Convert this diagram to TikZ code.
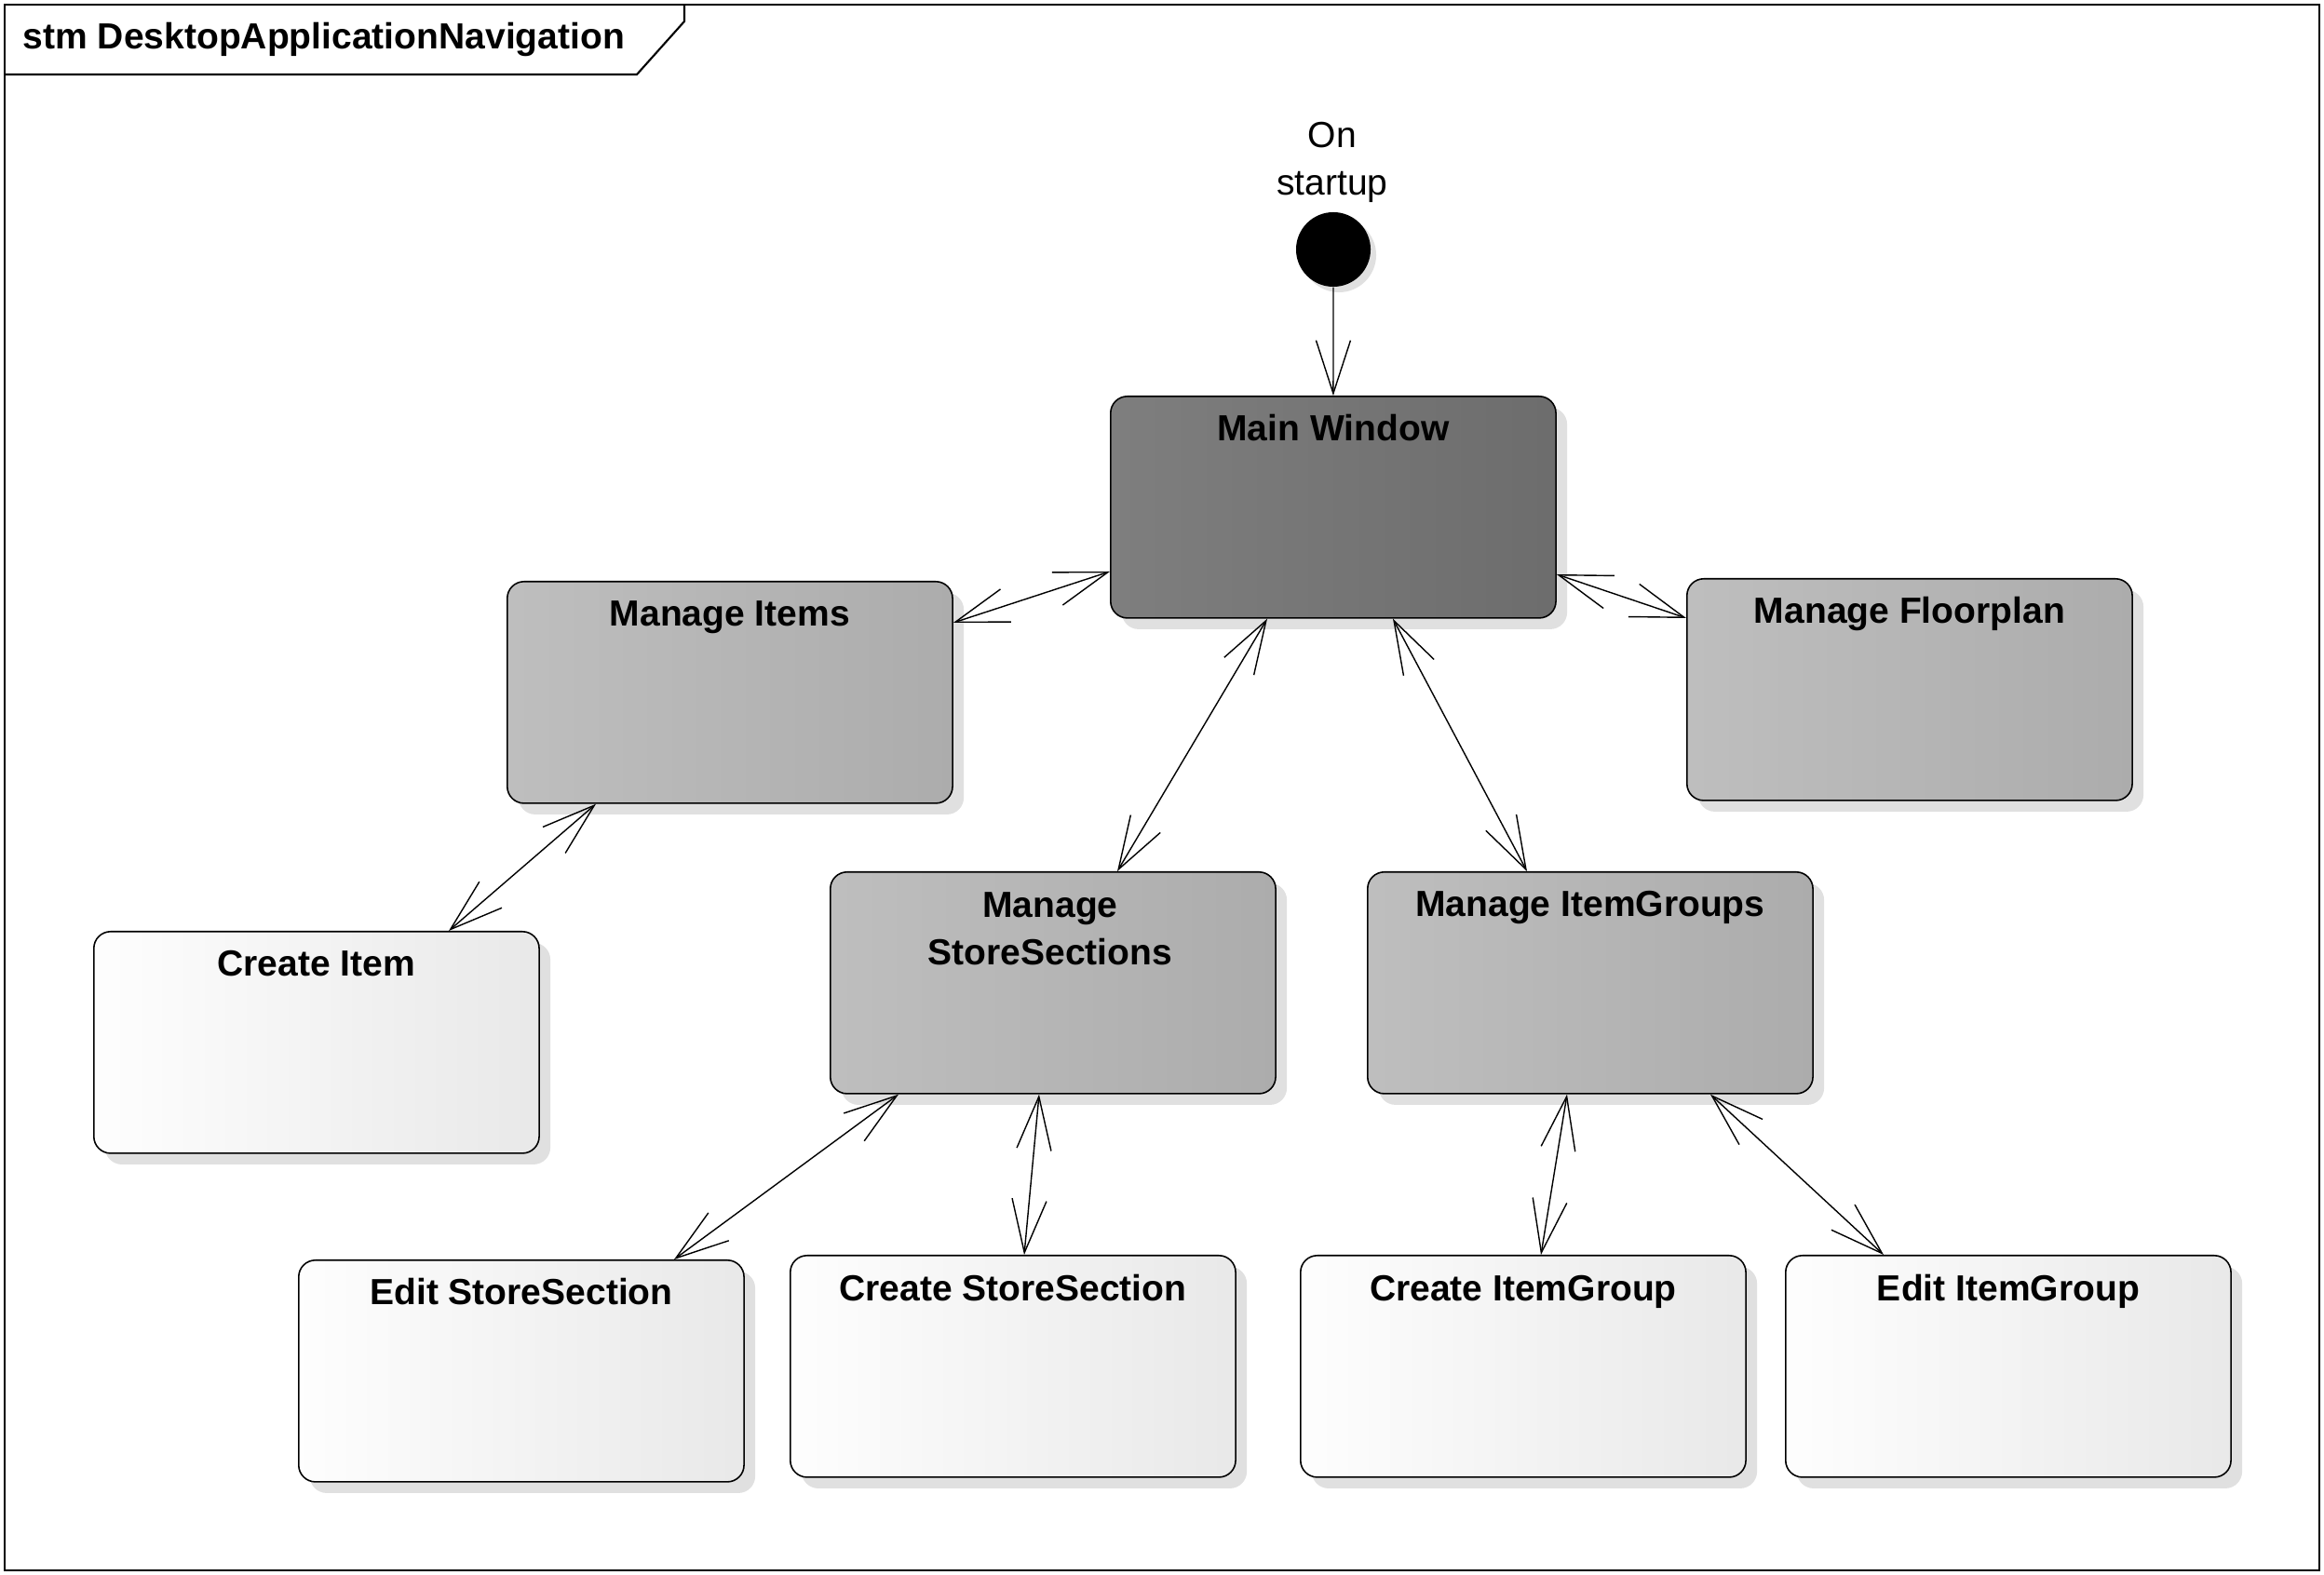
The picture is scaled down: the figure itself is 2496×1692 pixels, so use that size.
\documentclass[tikz,border=0pt]{standalone}
\usepackage{fontspec}
\setmainfont{Liberation Sans}
\usetikzlibrary{arrows.meta,calc,shadows}
\definecolor{dkL}{RGB}{128,128,128}
\definecolor{dkR}{RGB}{100,100,100}
\definecolor{gyL}{RGB}{192,192,192}
\definecolor{gyR}{RGB}{163,163,163}
\definecolor{wtR}{RGB}{222,222,222}
\definecolor{shadowc}{RGB}{224,224,224}
\pgfdeclarehorizontalshading{dkshade}{100bp}{color(0bp)=(dkL); color(20bp)=(dkL); color(100bp)=(dkR)}
\pgfdeclarehorizontalshading{gyshade}{100bp}{color(0bp)=(gyL); color(20bp)=(gyL); color(100bp)=(gyR)}
\pgfdeclarehorizontalshading{wtshade}{100bp}{color(0bp)=(white); color(22bp)=(white); color(100bp)=(wtR)}
\tikzset{
  stbox/.style={draw=black, line width=0.45pt, rounded corners=0.18cm,
    minimum width=4.78cm, minimum height=2.38cm, inner sep=0pt, anchor=north west,
    drop shadow={shadow xshift=0.12cm, shadow yshift=-0.12cm, fill=shadowc, opacity=1, draw=none}},
  darkbox/.style={stbox, shading=dkshade},
  graybox/.style={stbox, shading=gyshade},
  whitebox/.style={stbox, shading=wtshade},
  lbl/.style={font=\bfseries\fontsize{11.1pt}{14.5pt}\selectfont, inner sep=0pt, text=black},
  conn/.style={line width=0.4pt, draw=black},
  >={Straight Barb[length=5.7mm,width=3.7mm]}
}
\begin{document}
\begin{tikzpicture}[x=0.01cm, y=-0.01cm]
\useasboundingbox (0,0) rectangle (2496,1692);
% frame
\draw[line width=0.6pt] (5,5) rectangle (2491,1687);
\draw[line width=0.6pt] (5,80) -- (684,80) -- (735,23) -- (735,5);
\node[lbl, anchor=base west] (title) at (24,53) {stm DesktopApplicationNavigation};
% initial state
\node[align=center, font=\fontsize{11.1pt}{14.5pt}\selectfont, anchor=north, inner sep=0pt] (startlbl) at (1431,131) {On\\startup};
\node[circle, fill=black, minimum size=0.8cm, inner sep=0pt,
  drop shadow={shadow xshift=0.06cm, shadow yshift=-0.06cm, fill=shadowc, opacity=1}] (init) at (1432,268) {};
% states
\node[darkbox] (mw) at (1192,425) {};
\node[graybox] (mi) at (544,624) {};
\node[graybox] (mf) at (1811,621) {};
\node[whitebox] (ci) at (100,1000) {};
\node[graybox] (mss) at (891,936) {};
\node[graybox] (mig) at (1468,936) {};
\node[whitebox] (ess) at (320,1353) {};
\node[whitebox] (css) at (848,1348) {};
\node[whitebox] (cig) at (1396,1348) {};
\node[whitebox] (eig) at (1917,1348) {};
% labels
\node[lbl, anchor=base] (mwt) at ($(mw.north)+(0,49)$) {Main Window};
\node[lbl, anchor=base] (mit) at ($(mi.north)+(0,49)$) {Manage Items};
\node[lbl, anchor=base] (mft) at ($(mf.north)+(0,49)$) {Manage Floorplan};
\node[lbl, anchor=base] (cit) at ($(ci.north)+(0,49)$) {Create Item};
\node[lbl, anchor=north, align=center] (msst) at ($(mss.north)+(-3,22)$) {Manage\\StoreSections};
\node[lbl, anchor=base] (migt) at ($(mig.north)+(0,49)$) {Manage ItemGroups};
\node[lbl, anchor=base] (esst) at ($(ess.north)+(0,49)$) {Edit StoreSection};
\node[lbl, anchor=base] (csst) at ($(css.north)+(0,49)$) {Create StoreSection};
\node[lbl, anchor=base] (cigt) at ($(cig.north)+(0,49)$) {Create ItemGroup};
\node[lbl, anchor=base] (eigt) at ($(eig.north)+(0,49)$) {Edit ItemGroup};
% connectors
\draw[conn, ->] (init.south) -- (mw.north);
\draw[conn, <->] ($(mi.north east)+(0,45)$) -- ($(mw.north west)+(0,189)$);
\draw[conn, <->] ($(mw.north east)+(0,192)$) -- ($(mf.north west)+(0,43)$);
\draw[conn, <->] ($(mi.south west)+(96,0)$) -- ($(ci.north west)+(382,0)$);
\draw[conn, <->] ($(mw.south west)+(169,0)$) -- ($(mss.north west)+(309,0)$);
\draw[conn, <->] ($(mw.south west)+(304,0)$) -- ($(mig.north west)+(172,0)$);
\draw[conn, <->] ($(mss.south west)+(74,0)$) -- ($(ess.north west)+(404,0)$);
\draw[conn, <->] ($(mss.south west)+(225,0)$) -- ($(css.north west)+(252,0)$);
\draw[conn, <->] ($(mig.south west)+(215,0)$) -- ($(cig.north west)+(259,0)$);
\draw[conn, <->] ($(mig.south west)+(369,0)$) -- ($(eig.north west)+(106,0)$);
\end{tikzpicture}
\end{document}
